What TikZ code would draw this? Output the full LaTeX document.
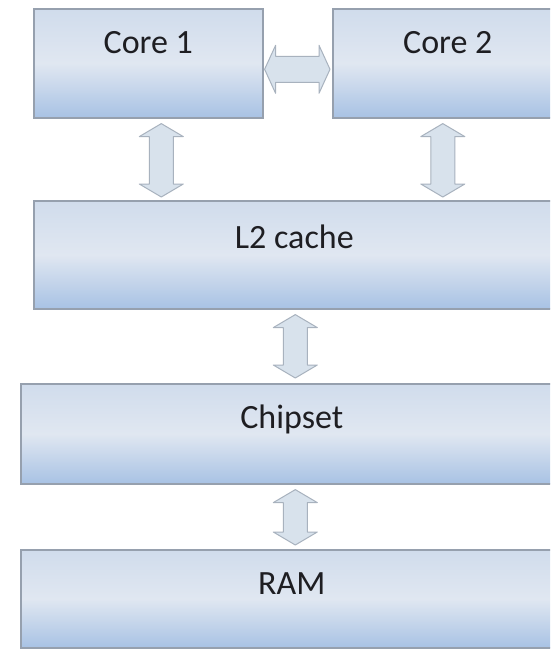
\documentclass[tikz,border=0pt]{standalone}
\usepackage{fontspec}
\setmainfont{Carlito}
\usetikzlibrary{calc}
\definecolor{boxtop}{RGB}{208,220,236}
\definecolor{boxmid}{RGB}{224,231,241}
\definecolor{boxbot}{RGB}{168,194,228}
\definecolor{boxline}{RGB}{150,160,174}
\definecolor{arrfill}{RGB}{216,226,236}
\definecolor{arrline}{RGB}{168,178,190}
\definecolor{txt}{RGB}{30,30,34}
\tikzset{
  blockbox/.style={draw=boxline, line width=1.6pt, top color=boxtop, bottom color=boxbot, middle color=boxmid, inner sep=0pt},
  lbl/.style={font=\fontsize{34}{40}\selectfont, text=txt, inner sep=0pt},
  blockarr/.style={fill=arrfill, draw=arrline, line width=1pt, line join=round}
}
\newcommand\vdblarrow[2]{%
  \filldraw[blockarr] let \p1=(#1), \p2=(#2) in
  (\x1,\y1) -- (\x1+22pt,\y1-13pt) -- (\x1+12pt,\y1-13pt) -- (\x1+12pt,\y2+13pt) -- (\x1+22pt,\y2+13pt) --
  (\x1,\y2) -- (\x1-22pt,\y2+13pt) -- (\x1-12pt,\y2+13pt) -- (\x1-12pt,\y1-13pt) -- (\x1-22pt,\y1-13pt) -- cycle;}
\newcommand\hdblarrow[2]{%
  \filldraw[blockarr] let \p1=(#1), \p2=(#2) in
  (\x1,\y1) -- (\x1+11pt,\y1+24pt) -- (\x1+11pt,\y1+13pt) -- (\x2-11pt,\y1+13pt) -- (\x2-11pt,\y1+24pt) --
  (\x2,\y1) -- (\x2-11pt,\y1-24pt) -- (\x2-11pt,\y1-13pt) -- (\x1+11pt,\y1-13pt) -- (\x1+11pt,\y1-24pt) -- cycle;}
\begin{document}
\begin{tikzpicture}[x=1pt,y=-1pt]
  \useasboundingbox (0,0) rectangle (550,651);
  \clip (0,0) rectangle (550,651);
  \fill[white] (0,0) rectangle (550,651);
  % boxes
  \node[blockbox, minimum width=229pt, minimum height=109pt, anchor=north west] (c1) at (33,8) {};
  \node[blockbox, minimum width=230pt, minimum height=109pt, anchor=north west] (c2) at (332,8) {};
  \node[blockbox, minimum width=529pt, minimum height=108pt, anchor=north west] (l2) at (33,200) {};
  \node[blockbox, minimum width=542pt, minimum height=100pt, anchor=north west] (cs) at (20,383) {};
  \node[blockbox, minimum width=542pt, minimum height=98pt, anchor=north west] (ram) at (20,549) {};
  % labels
  \node[lbl, anchor=base] (t1) at ([yshift=-45pt]c1.north) {Core 1};
  \node[lbl, anchor=base] (t2) at ([yshift=-45pt]c2.north) {Core 2};
  \node[lbl, anchor=base] (t3) at ([xshift=-4pt,yshift=-48pt]l2.north) {L2 cache};
  \node[lbl, anchor=base] (t4) at ([yshift=-45pt]cs.north) {Chipset};
  \node[lbl, anchor=base] (t5) at ([yshift=-45pt]ram.north) {RAM};
  % arrow end points
  \coordinate (a1t) at ([xshift=13pt,yshift=-5pt]c1.south);
  \coordinate (a1b) at ([yshift=3pt]a1t |- l2.north);
  \coordinate (a2t) at ([xshift=-5pt,yshift=-5pt]c2.south);
  \coordinate (a2b) at ([yshift=3pt]a2t |- l2.north);
  \coordinate (a3t) at ([xshift=-3pt,yshift=-5pt]l2.south);
  \coordinate (a3b) at ([yshift=5pt]a3t |- cs.north);
  \coordinate (a4t) at ([yshift=-5pt]a3t |- cs.south);
  \coordinate (a4b) at ([yshift=4pt]a3t |- ram.north);
  \coordinate (h1l) at ([xshift=1pt,yshift=-6pt]c1.east);
  \coordinate (h1r) at ([xshift=-2pt]h1l -| c2.west);
  % arrows
  \hdblarrow{h1l}{h1r}
  \vdblarrow{a1t}{a1b}
  \vdblarrow{a2t}{a2b}
  \vdblarrow{a3t}{a3b}
  \vdblarrow{a4t}{a4b}
\end{tikzpicture}
\end{document}
